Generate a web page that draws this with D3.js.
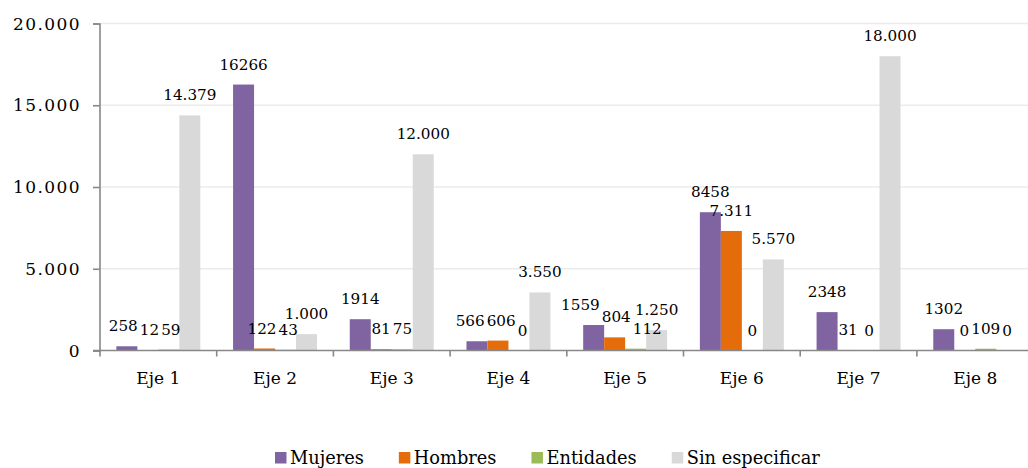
<!DOCTYPE html>
<html><head><meta charset="utf-8">
<script src="https://cdn.jsdelivr.net/npm/d3@7"></script>
<style>body{margin:0;background:#fff;overflow:hidden} svg{display:block}</style>
</head><body><svg id="c" width="1028" height="468"></svg>
<script>
const categories = ["Eje 1","Eje 2","Eje 3","Eje 4","Eje 5","Eje 6","Eje 7","Eje 8"];
const seriesNames = ["Mujeres","Hombres","Entidades","Sin especificar"];
const mujeres = [258,16266,1914,566,1559,8458,2348,1302];
const hombres = [12,122,81,606,804,7311,31,0];
const entidades = [59,43,75,0,112,0,0,109];
const sinEspecificar = [14379,1000,12000,3550,1250,5570,18000,0];
const yTicks = [0,5000,10000,15000,20000];
const colors = ["#8064A2","#E46C0A","#9BBB59","#D9D9D9"];

const seriesValues = [mujeres, hombres, entidades, sinEspecificar];
const loc = d3.formatLocale({decimal:",", thousands:".", grouping:[3], currency:["",""]});
const grouped = loc.format(",d");
const plain = d3.format("d");
const labelFormats = [plain, grouped, plain, grouped];

const svg = d3.select("#c");
const font = "'DejaVu Serif', serif";

const step = 116.7;
const x0 = d3.scaleBand().domain(categories).range([100, 100 + step*categories.length]);
const x1 = d3.scaleBand().domain(seriesNames).range([0, x0.bandwidth()]).paddingInner(0).paddingOuter(0.78);
const y = d3.scaleLinear().domain([0, 20000]).range([350.5, 23.5]);

// gridlines
svg.append("g").selectAll("line").data(yTicks.filter(t => t > 0)).join("line")
  .attr("x1", 100).attr("x2", 1028)
  .attr("y1", d => y(d)).attr("y2", d => y(d))
  .attr("stroke", "#ebebeb").attr("stroke-width", 1.3);

// bars
const rows = (c, i) => seriesNames.map((s, k) => ({s, k, v: seriesValues[k][i]}));
const groups = svg.append("g").selectAll("g").data(categories).join("g")
  .attr("transform", d => `translate(${x0(d)},0)`);
groups.selectAll("rect").data(rows).join("rect")
  .attr("x", d => x1(d.s)).attr("width", x1.bandwidth())
  .attr("y", d => y(d.v)).attr("height", d => y(0) - y(d.v))
  .attr("fill", d => colors[d.k]);

// data labels
groups.selectAll("text").data(rows).join("text")
  .attr("x", d => x1(d.s) + x1.bandwidth()/2)
  .attr("y", d => y(d.v) - 15)
  .attr("text-anchor", "middle")
  .attr("font-family", font).attr("font-size", 15.2).attr("fill", "#000")
  .text(d => labelFormats[d.k](d.v));

// simple de-overlap of labels inside each group
groups.each(function() {
  const nodes = d3.select(this).selectAll("text").nodes();
  const bx = nodes.map(n => {
    const b = n.getBBox();
    const base = +n.getAttribute("y");
    return {n, x: b.x, w: b.width, top: base - 14, bot: base + 1, dx: 0};
  });
  for (let it = 0; it < 40; it++) {
    for (let a = 0; a < bx.length - 1; a++) {
      const A = bx[a], B = bx[a+1];
      if (A.bot <= B.top || B.bot <= A.top) continue;
      const ov = (A.x + A.dx + A.w + 2) - (B.x + B.dx);
      if (ov > 0) { A.dx -= ov/2; B.dx += ov/2; }
    }
  }
  bx.forEach(b => b.n.setAttribute("x", +b.n.getAttribute("x") + b.dx));
});

// y axis
const yAxis = d3.axisLeft(y).tickValues(yTicks).tickSize(6.5).tickPadding(12).tickFormat(grouped);
const yg = svg.append("g").attr("transform", "translate(99.5,0)").call(yAxis);
yg.select(".domain").attr("stroke", "#888").attr("stroke-width", 1.6);
yg.selectAll(".tick line").attr("stroke", "#888").attr("stroke-width", 1.6);
yg.selectAll(".tick text").attr("font-family", font).attr("font-size", 17)
  .attr("letter-spacing", "1.4px").attr("fill", "#000").attr("dy", "0.33em");

// x axis
const xAxis = d3.axisBottom(x0).tickSize(0).tickPadding(0);
const xg = svg.append("g").attr("transform", "translate(0,350.5)").call(xAxis);
xg.select(".domain").remove();
xg.append("line").attr("x1", 93).attr("x2", 1028).attr("y1", 0).attr("y2", 0)
  .attr("stroke", "#888").attr("stroke-width", 1.6);
xg.selectAll(".bticks").data(categories).join("line").attr("class","bticks")
  .attr("x1", d => x0(d)).attr("x2", d => x0(d)).attr("y1", 0).attr("y2", 6)
  .attr("stroke", "#888").attr("stroke-width", 1.6);
xg.selectAll(".tick text").attr("font-family", font).attr("font-size", 17)
  .attr("fill", "#000").attr("dy", null).attr("y", 33.5);

// legend
const lg = svg.append("g");
let lx = 275;
seriesNames.forEach((s, k) => {
  lg.append("rect").attr("x", lx).attr("y", 452).attr("width", 11.5).attr("height", 11.5).attr("fill", colors[k]);
  const t = lg.append("text").attr("x", lx + 15).attr("y", 463.5)
    .attr("font-family", font).attr("font-size", 17.8).attr("fill", "#000").text(s);
  lx += 15 + t.node().getComputedTextLength() + 35;
});
</script></body></html>
